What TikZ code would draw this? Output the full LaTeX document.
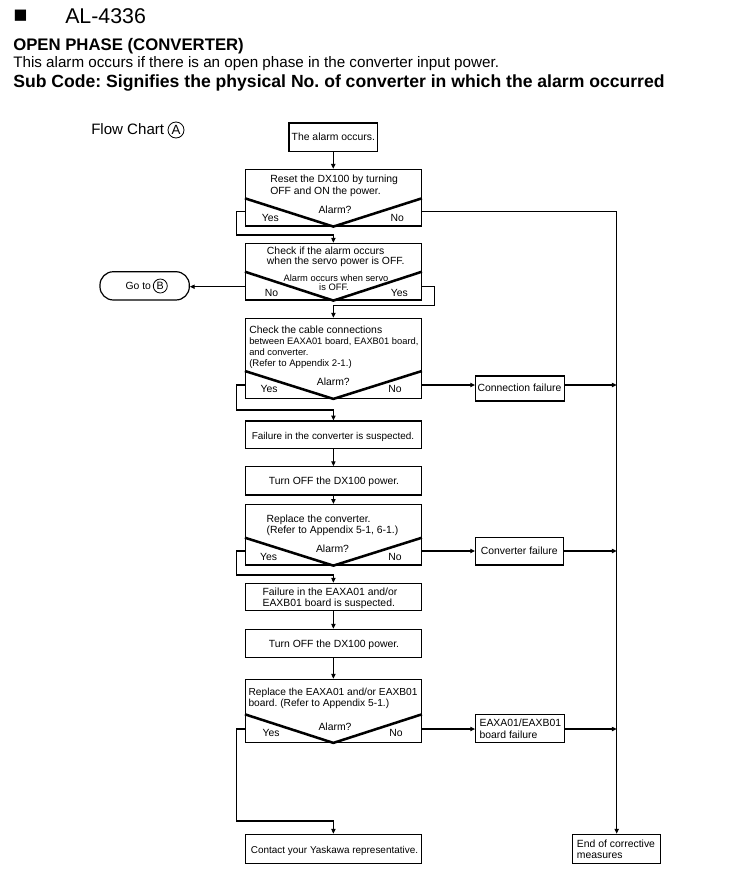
\documentclass[tikz,border=0pt]{standalone}
\usepackage{fontspec}
\setmainfont{Liberation Sans}
\newfontfamily\dejavu{DejaVu Sans}
\usetikzlibrary{arrows.meta,calc}
\newcommand\fsz[1]{\fontsize{#1}{#1}\selectfont}
\frenchspacing
\begin{document}
\begin{tikzpicture}[x=0.75pt,y=-0.75pt,
  box/.style={draw, line width=0.9pt, rectangle, inner sep=0, minimum width=131.85pt},
  conn/.style={line width=0.8pt},
  arr/.style={conn, -{Triangle[length=3.6pt,width=3.2pt]}},
  diag/.style={line width=1.9pt},
  tm/.style={inner sep=0, font=\fsz{7.8}},
  tn/.style={inner sep=0, font=\fsz{7.45}},
  ts/.style={inner sep=0, font=\fsz{7}},
  circ/.style={circle, draw, line width=0.6pt, inner sep=0}]
\fill[white] (0,0) rectangle (732,893);
\useasboundingbox (0,0) rectangle (732,893);
% header
\node[inner sep=0, font=\dejavu\fsz{11}] (sq) at (20.5,15.5) {■};
\node[inner sep=0, anchor=base west, font=\fsz{16}] (title) at (65,23) {AL-4336};
\node[inner sep=0, anchor=base west, font=\bfseries\fsz{12.55}] (h1) at (13,50) {OPEN PHASE (CONVERTER)};
\node[inner sep=0, anchor=base west, font=\fsz{11.4}] (h2) at (13,67.5) {This alarm occurs if there is an open phase in the converter input power.};
\node[inner sep=0, anchor=base west, font=\bfseries\fsz{13.2}] (h3) at (13,87.5) {Sub Code: Signifies the physical No. of converter in which the alarm occurred};
\node[inner sep=0, anchor=base west, font=\fsz{11.3}] (fc) at (91,134.5) {Flow Chart};
\node[circ, minimum size=12pt, font=\fsz{10}] (cA) at (176,130) {A};
% boxes
\node[box, minimum width=66.4pt, minimum height=21.4pt] (B0) at (333.25,137.25) {};
\node[box, minimum height=42.5pt] (B1) at (333.4,197.65) {};
\node[box, minimum height=42.5pt] (B2) at (333.4,271.65) {};
\node[box, minimum height=60pt] (B3) at (333.4,358.3) {};
\node[box, minimum height=20.5pt] (B4) at (333.4,434.65) {};
\node[box, minimum height=21.2pt] (B5) at (333.4,480.85) {};
\node[box, minimum height=45.4pt] (B6) at (333.4,534.75) {};
\node[box, minimum height=20.4pt] (B7) at (333.4,596.9) {};
\node[box, minimum height=21pt] (B8) at (333.4,643.3) {};
\node[box, minimum height=47.25pt] (B9) at (333.4,710.8) {};
\node[box, minimum height=21.75pt] (B10) at (333.4,848.8) {};
\node[box, minimum width=66.45pt, minimum height=18.75pt] (C1) at (520,388.5) {};
\node[box, minimum width=65.9pt, minimum height=20.5pt] (C2) at (519.6,551.35) {};
\node[box, minimum width=66.45pt, minimum height=21pt] (C3) at (520,728.3) {};
\node[box, minimum width=66pt, minimum height=21.75pt] (E) at (616.7,848.8) {};
\node[box, rounded corners=10pt, minimum width=67pt, minimum height=21.2pt] (G) at (144.65,285.85) {};
% decision V shapes
\coordinate (v1) at (0,198.3);
\coordinate (v2) at (0,271.7);
\coordinate (v3) at (0,371);
\coordinate (v6) at (0,537.7);
\coordinate (v9) at (0,714.3);
\draw[diag] (B1.west |- v1) -- (B1.south) -- (B1.east |- v1);
\draw[diag] (B2.west |- v2) -- (B2.south) -- (B2.east |- v2);
\draw[diag] (B3.west |- v3) -- (B3.south) -- (B3.east |- v3);
\draw[diag] (B6.west |- v6) -- (B6.south) -- (B6.east |- v6);
\draw[diag] (B9.west |- v9) -- (B9.south) -- (B9.east |- v9);
% texts
\node[tm, anchor=base] (t0) at (333.3,140.7) {The alarm occurs.};
\node[tm, anchor=base west] (t1a) at (270,182) {Reset the DX100 by turning};
\node[tm, anchor=base west] (t1b) at (270,194.4) {OFF and ON the power.};
\node[tm, anchor=base] (q1) at (335,213) {Alarm?};
\node[tm, anchor=base] (y1) at (270.3,221) {Yes};
\node[tm, anchor=base] (n1) at (397.3,221) {No};
\node[tm, anchor=base west] (t2a) at (266.7,254.4) {Check if the alarm occurs};
\node[tm, anchor=base west] (t2b) at (266.7,264.7) {when the servo power is OFF.};
\node[ts, anchor=base] (q2a) at (336,281.6) {Alarm occurs when servo};
\node[ts, anchor=base] (q2b) at (334,290.3) {is OFF.};
\node[tm, anchor=base] (n2) at (271.5,296) {No};
\node[tm, anchor=base] (y2) at (399.3,296) {Yes};
\node[tm, anchor=base west] (t3a) at (249,333.7) {Check the cable connections};
\node[ts, anchor=base west] (t3b) at (249,344) {between EAXA01 board, EAXB01 board,};
\node[ts, anchor=base west] (t3c) at (249,355) {and converter.};
\node[inner sep=0, font=\fsz{7.2}, anchor=base west] (t3d) at (249,366.4) {(Refer to Appendix 2-1.)};
\node[tm, anchor=base] (q3) at (333.3,385.4) {Alarm?};
\node[tm, anchor=base] (y3) at (269,392.7) {Yes};
\node[tm, anchor=base] (n3) at (395,392.7) {No};
\node[tn, anchor=base] (t4) at (333,439.7) {Failure in the converter is suspected.};
\node[tm, anchor=base] (t5) at (334,484.7) {Turn OFF the DX100 power.};
\node[tm, anchor=base west] (t6a) at (266.3,522.7) {Replace the converter.};
\node[tm, anchor=base west] (t6b) at (266.3,533) {(Refer to Appendix 5-1, 6-1.)};
\node[tm, anchor=base] (q6) at (332.5,552.7) {Alarm?};
\node[tm, anchor=base] (y6) at (268.5,560.4) {Yes};
\node[tm, anchor=base] (n6) at (395,560) {No};
\node[tm, anchor=base west] (t7a) at (262.3,595.4) {Failure in the EAXA01 and/or};
\node[tm, anchor=base west] (t7b) at (262.3,606.7) {EAXB01 board is suspected.};
\node[tm, anchor=base] (t8) at (334,647) {Turn OFF the DX100 power.};
\node[inner sep=0, font=\fsz{7.65}, anchor=base west] (t9a) at (248.3,695.4) {Replace the EAXA01 and/or EAXB01};
\node[inner sep=0, font=\fsz{7.65}, anchor=base west] (t9b) at (248.3,706.4) {board. (Refer to Appendix 5-1.)};
\node[tm, anchor=base] (q9) at (335,730.4) {Alarm?};
\node[tm, anchor=base] (y9) at (271,736.7) {Yes};
\node[tm, anchor=base] (n9) at (396,736.7) {No};
\node[tn, anchor=base] (t10) at (334.5,853) {Contact your Yaskawa representative.};
\node[tm, anchor=base] (tc1) at (519.5,391.7) {Connection failure};
\node[tm, anchor=base] (tc2) at (519.2,554.7) {Converter failure};
\node[tm, anchor=base west] (tc3a) at (479.3,726.4) {EAXA01/EAXB01};
\node[tm, anchor=base west] (tc3b) at (479.3,738.7) {board failure};
\node[tm, anchor=base west] (tea) at (576.7,847) {End of corrective};
\node[tm, anchor=base west] (teb) at (576.7,858) {measures};
\node[tm, anchor=base] (tg) at (138.3,289.7) {Go to};
\node[circ, minimum size=10.5pt, font=\fsz{8}] (cB) at (160.3,286) {B};
% connectors
\coordinate (r1) at (0,211.7);
\coordinate (j1) at (236.7,235);
\coordinate (r2) at (0,286.7);
\coordinate (j2) at (434.3,305.7);
\coordinate (r3) at (0,385);
\coordinate (j3) at (236.7,410);
\coordinate (r6) at (0,551);
\coordinate (j6) at (236.7,575);
\coordinate (r9) at (0,729);
\coordinate (j9) at (236.2,821);
\draw[arr] (B0.south) -- (B0.south |- B1.north);
\draw[arr] (B1.west |- r1) -| (j1) -| (B2.north);
\draw[arr] (B1.east |- r1) -| (E.north);
\draw[arr] (B2.west |- r2) -- (G.east |- r2);
\draw[arr] (B2.east |- r2) -| (j2) -| (B3.north);
\draw[arr] (B3.west |- r3) -| (j3) -| (B4.north);
\draw[arr] (B3.east |- r3) -- (C1.west |- r3);
\draw[arr] (C1.east |- r3) -- (E.north |- r3);
\draw[arr] (B4.south) -- (B5.north);
\draw[arr] (B5.south) -- (B6.north);
\draw[arr] (B6.west |- r6) -| (j6) -| (B7.north);
\draw[arr] (B6.east |- r6) -- (C2.west |- r6);
\draw[arr] (C2.east |- r6) -- (E.north |- r6);
\draw[arr] (B7.south) -- (B8.north);
\draw[arr] (B8.south) -- (B9.north);
\draw[arr] (B9.west |- r9) -| (j9) -| (B10.north);
\draw[arr] (B9.east |- r9) -- (C3.west |- r9);
\draw[arr] (C3.east |- r9) -- (E.north |- r9);
\end{tikzpicture}
\end{document}
